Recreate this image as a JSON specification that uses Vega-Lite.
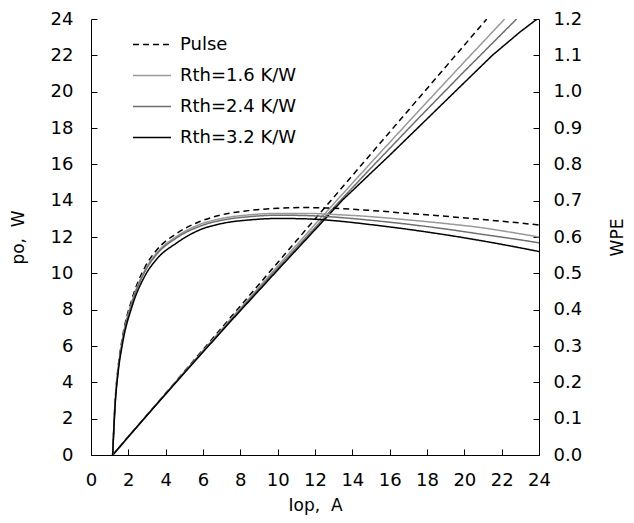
{
  "$schema": "https://vega.github.io/schema/vega-lite/v6.json",
  "width": 448,
  "height": 436,
  "autosize": {"type": "none"},
  "padding": {"left": 91, "top": 19, "right": 95, "bottom": 68},
  "background": "white",
  "config": {
    "font": "DejaVu Sans",
    "view": {"stroke": null},
    "axis": {
      "grid": false,
      "domainColor": "#000000",
      "domainWidth": 1,
      "tickColor": "#000000",
      "tickWidth": 1,
      "tickSize": -6,
      "labelColor": "#000000",
      "titleColor": "#000000",
      "labelFont": "DejaVu Sans",
      "titleFont": "DejaVu Sans",
      "labelFontSize": 18,
      "titleFontSize": 17,
      "titleFontWeight": "normal",
      "labelFlush": false,
      "labelOverlap": false
    },
    "legend": {
      "labelFont": "DejaVu Sans",
      "labelFontSize": 18,
      "labelColor": "#000000"
    }
  },
  "datasets": {
    "po": [
      {"I": 1.16, "P": 0, "s": "Pulse"},
      {"I": 11, "P": 11.79, "s": "Pulse"},
      {"I": 21.2, "P": 24, "s": "Pulse"},
      {"I": 1.16, "P": 0, "s": "Rth=1.6 K/W"},
      {"I": 3, "P": 2.2, "s": "Rth=1.6 K/W"},
      {"I": 5, "P": 4.57, "s": "Rth=1.6 K/W"},
      {"I": 7.5, "P": 7.5, "s": "Rth=1.6 K/W"},
      {"I": 10, "P": 10.4, "s": "Rth=1.6 K/W"},
      {"I": 12.5, "P": 13.26, "s": "Rth=1.6 K/W"},
      {"I": 15, "P": 16.09, "s": "Rth=1.6 K/W"},
      {"I": 17.5, "P": 18.88, "s": "Rth=1.6 K/W"},
      {"I": 20, "P": 21.64, "s": "Rth=1.6 K/W"},
      {"I": 22.16, "P": 24, "s": "Rth=1.6 K/W"},
      {"I": 1.16, "P": 0, "s": "Rth=2.4 K/W"},
      {"I": 3, "P": 2.19, "s": "Rth=2.4 K/W"},
      {"I": 5, "P": 4.55, "s": "Rth=2.4 K/W"},
      {"I": 7.5, "P": 7.44, "s": "Rth=2.4 K/W"},
      {"I": 10, "P": 10.28, "s": "Rth=2.4 K/W"},
      {"I": 12.5, "P": 13.07, "s": "Rth=2.4 K/W"},
      {"I": 15, "P": 15.8, "s": "Rth=2.4 K/W"},
      {"I": 17.5, "P": 18.49, "s": "Rth=2.4 K/W"},
      {"I": 20, "P": 21.12, "s": "Rth=2.4 K/W"},
      {"I": 22.8, "P": 24, "s": "Rth=2.4 K/W"},
      {"I": 1.16, "P": 0, "s": "Rth=3.2 K/W"},
      {"I": 3, "P": 2.19, "s": "Rth=3.2 K/W"},
      {"I": 5, "P": 4.52, "s": "Rth=3.2 K/W"},
      {"I": 7.5, "P": 7.38, "s": "Rth=3.2 K/W"},
      {"I": 10, "P": 10.18, "s": "Rth=3.2 K/W"},
      {"I": 13.48, "P": 14.04, "s": "Rth=3.2 K/W"},
      {"I": 16, "P": 16.5, "s": "Rth=3.2 K/W"},
      {"I": 18, "P": 18.5, "s": "Rth=3.2 K/W"},
      {"I": 20, "P": 20.5, "s": "Rth=3.2 K/W"},
      {"I": 21.5, "P": 22.0, "s": "Rth=3.2 K/W"},
      {"I": 23, "P": 23.3, "s": "Rth=3.2 K/W"},
      {"I": 23.9, "P": 24, "s": "Rth=3.2 K/W"}
    ],
    "wpe": [
      {"I": 1.16, "W": 0, "s": "Pulse"},
      {"I": 1.3, "W": 0.155, "s": "Pulse"},
      {"I": 1.45, "W": 0.24, "s": "Pulse"},
      {"I": 1.7, "W": 0.328, "s": "Pulse"},
      {"I": 2.2, "W": 0.43, "s": "Pulse"},
      {"I": 2.9, "W": 0.518, "s": "Pulse"},
      {"I": 3.5, "W": 0.563, "s": "Pulse"},
      {"I": 4.6, "W": 0.61, "s": "Pulse"},
      {"I": 5.8, "W": 0.642, "s": "Pulse"},
      {"I": 7, "W": 0.661, "s": "Pulse"},
      {"I": 8.5, "W": 0.673, "s": "Pulse"},
      {"I": 10, "W": 0.679, "s": "Pulse"},
      {"I": 11.5, "W": 0.681, "s": "Pulse"},
      {"I": 13, "W": 0.679, "s": "Pulse"},
      {"I": 15, "W": 0.673, "s": "Pulse"},
      {"I": 17, "W": 0.665, "s": "Pulse"},
      {"I": 19, "W": 0.657, "s": "Pulse"},
      {"I": 21, "W": 0.648, "s": "Pulse"},
      {"I": 22.5, "W": 0.641, "s": "Pulse"},
      {"I": 24, "W": 0.633, "s": "Pulse"},
      {"I": 1.16, "W": 0, "s": "Rth=1.6 K/W"},
      {"I": 1.3, "W": 0.15, "s": "Rth=1.6 K/W"},
      {"I": 1.45, "W": 0.235, "s": "Rth=1.6 K/W"},
      {"I": 1.7, "W": 0.322, "s": "Rth=1.6 K/W"},
      {"I": 2.2, "W": 0.423, "s": "Rth=1.6 K/W"},
      {"I": 2.9, "W": 0.51, "s": "Rth=1.6 K/W"},
      {"I": 3.5, "W": 0.555, "s": "Rth=1.6 K/W"},
      {"I": 4.6, "W": 0.602, "s": "Rth=1.6 K/W"},
      {"I": 5.8, "W": 0.634, "s": "Rth=1.6 K/W"},
      {"I": 7, "W": 0.651, "s": "Rth=1.6 K/W"},
      {"I": 8.5, "W": 0.661, "s": "Rth=1.6 K/W"},
      {"I": 10, "W": 0.665, "s": "Rth=1.6 K/W"},
      {"I": 11.5, "W": 0.665, "s": "Rth=1.6 K/W"},
      {"I": 13, "W": 0.662, "s": "Rth=1.6 K/W"},
      {"I": 15, "W": 0.656, "s": "Rth=1.6 K/W"},
      {"I": 17, "W": 0.647, "s": "Rth=1.6 K/W"},
      {"I": 19, "W": 0.637, "s": "Rth=1.6 K/W"},
      {"I": 21, "W": 0.625, "s": "Rth=1.6 K/W"},
      {"I": 22.5, "W": 0.613, "s": "Rth=1.6 K/W"},
      {"I": 24, "W": 0.6, "s": "Rth=1.6 K/W"},
      {"I": 1.16, "W": 0, "s": "Rth=2.4 K/W"},
      {"I": 1.3, "W": 0.148, "s": "Rth=2.4 K/W"},
      {"I": 1.45, "W": 0.232, "s": "Rth=2.4 K/W"},
      {"I": 1.7, "W": 0.318, "s": "Rth=2.4 K/W"},
      {"I": 2.2, "W": 0.419, "s": "Rth=2.4 K/W"},
      {"I": 2.9, "W": 0.506, "s": "Rth=2.4 K/W"},
      {"I": 3.5, "W": 0.551, "s": "Rth=2.4 K/W"},
      {"I": 4.6, "W": 0.598, "s": "Rth=2.4 K/W"},
      {"I": 5.8, "W": 0.629, "s": "Rth=2.4 K/W"},
      {"I": 7, "W": 0.646, "s": "Rth=2.4 K/W"},
      {"I": 8.5, "W": 0.656, "s": "Rth=2.4 K/W"},
      {"I": 10, "W": 0.66, "s": "Rth=2.4 K/W"},
      {"I": 11.5, "W": 0.659, "s": "Rth=2.4 K/W"},
      {"I": 13, "W": 0.655, "s": "Rth=2.4 K/W"},
      {"I": 15, "W": 0.646, "s": "Rth=2.4 K/W"},
      {"I": 17, "W": 0.635, "s": "Rth=2.4 K/W"},
      {"I": 19, "W": 0.622, "s": "Rth=2.4 K/W"},
      {"I": 21, "W": 0.607, "s": "Rth=2.4 K/W"},
      {"I": 22.5, "W": 0.596, "s": "Rth=2.4 K/W"},
      {"I": 24, "W": 0.584, "s": "Rth=2.4 K/W"},
      {"I": 1.16, "W": 0, "s": "Rth=3.2 K/W"},
      {"I": 1.3, "W": 0.143, "s": "Rth=3.2 K/W"},
      {"I": 1.45, "W": 0.226, "s": "Rth=3.2 K/W"},
      {"I": 1.7, "W": 0.31, "s": "Rth=3.2 K/W"},
      {"I": 2.2, "W": 0.409, "s": "Rth=3.2 K/W"},
      {"I": 2.9, "W": 0.494, "s": "Rth=3.2 K/W"},
      {"I": 3.5, "W": 0.538, "s": "Rth=3.2 K/W"},
      {"I": 4.6, "W": 0.584, "s": "Rth=3.2 K/W"},
      {"I": 5.8, "W": 0.619, "s": "Rth=3.2 K/W"},
      {"I": 7, "W": 0.637, "s": "Rth=3.2 K/W"},
      {"I": 8.5, "W": 0.647, "s": "Rth=3.2 K/W"},
      {"I": 10, "W": 0.651, "s": "Rth=3.2 K/W"},
      {"I": 11.5, "W": 0.65, "s": "Rth=3.2 K/W"},
      {"I": 13, "W": 0.645, "s": "Rth=3.2 K/W"},
      {"I": 15, "W": 0.634, "s": "Rth=3.2 K/W"},
      {"I": 17, "W": 0.621, "s": "Rth=3.2 K/W"},
      {"I": 19, "W": 0.606, "s": "Rth=3.2 K/W"},
      {"I": 21, "W": 0.589, "s": "Rth=3.2 K/W"},
      {"I": 22.5, "W": 0.575, "s": "Rth=3.2 K/W"},
      {"I": 24, "W": 0.56, "s": "Rth=3.2 K/W"}
    ]
  },
  "encoding": {
    "x": {
      "field": "I", "type": "quantitative",
      "scale": {"domain": [0, 24], "nice": false, "zero": false},
      "axis": {
        "orient": "bottom",
        "values": [0, 2, 4, 6, 8, 10, 12, 14, 16, 18, 20, 22, 24],
        "labelOverlap": false,
        "labelPadding": 22,
        "title": "Iop,\u00a0\u00a0A",
        "titleX": 224, "titleY": 50,
        "titleAlign": "center", "titleBaseline": "middle", "titleAngle": 0
      }
    },
    "color": {
      "field": "s", "type": "nominal",
      "scale": {
        "domain": ["Pulse", "Rth=1.6 K/W", "Rth=2.4 K/W", "Rth=3.2 K/W"],
        "range": ["#000000", "#999999", "#6e6e6e", "#000000"]
      },
      "legend": {
        "title": null,
        "orient": "none",
        "legendX": 41,
        "legendY": 15,
        "padding": 0,
        "symbolType": "M-1,0H3",
        "symbolSize": 361,
        "symbolStrokeWidth": 1.5,
        "symbolFillColor": "transparent",
        "labelOffset": 27,
        "rowPadding": 11
      }
    },
    "strokeDash": {
      "field": "s", "type": "nominal",
      "scale": {
        "domain": ["Pulse", "Rth=1.6 K/W", "Rth=2.4 K/W", "Rth=3.2 K/W"],
        "range": [[6, 4], [1, 0], [1, 0], [1, 0]]
      },
      "legend": {
        "title": null,
        "orient": "none",
        "legendX": 41,
        "legendY": 15,
        "padding": 0,
        "symbolType": "M-1,0H3",
        "symbolSize": 361,
        "symbolStrokeWidth": 1.5,
        "symbolFillColor": "transparent",
        "labelOffset": 27,
        "rowPadding": 11
      }
    }
  },
  "layer": [
    {
      "data": {"name": "po"},
      "mark": {"type": "line", "strokeWidth": 1.5, "clip": true},
      "encoding": {
        "y": {
          "field": "P", "type": "quantitative",
          "scale": {"domain": [0, 24], "nice": false},
          "axis": {
            "orient": "left",
            "values": [0, 2, 4, 6, 8, 10, 12, 14, 16, 18, 20, 22, 24],
            "labelPadding": 24,
            "title": "po,\u00a0\u00a0W",
            "titleX": -73, "titleY": 218,
            "titleAlign": "center", "titleBaseline": "middle", "titleAngle": -90
          }
        }
      }
    },
    {
      "data": {"name": "wpe"},
      "mark": {"type": "line", "strokeWidth": 1.5, "clip": true, "interpolate": "monotone"},
      "encoding": {
        "y": {
          "field": "W", "type": "quantitative",
          "scale": {"domain": [0, 1.2], "nice": false},
          "axis": {
            "orient": "right",
            "values": [0, 0.1, 0.2, 0.3, 0.4, 0.5, 0.6, 0.7, 0.8, 0.9, 1.0, 1.1, 1.2],
            "format": ".1f",
            "labelPadding": 20,
            "title": "WPE",
            "titleX": 78, "titleY": 218,
            "titleAlign": "center", "titleBaseline": "middle", "titleAngle": -90
          }
        }
      }
    }
  ],
  "resolve": {"scale": {"y": "independent"}}
}
